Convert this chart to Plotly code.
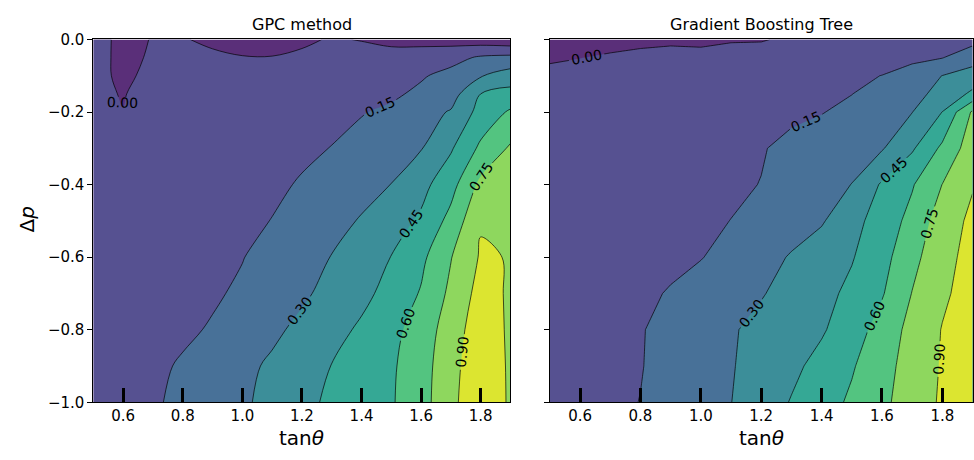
import plotly.graph_objects as go

# ---------------- data ----------------
x_tan = [0.5, 0.6, 0.7, 0.8, 0.9, 1.0, 1.1, 1.2, 1.3, 1.4, 1.5, 1.6, 1.7, 1.8, 1.9]
y_dp = [0.0, -0.05, -0.1, -0.15, -0.2, -0.3, -0.4, -0.5, -0.6, -0.7, -0.8, -0.9, -1.0]

# GPC method: one row per y_dp value (top to bottom), one column per x_tan value
gpc_z = [
    [0.045, -0.03, 0.005, 0.01, -0.03, -0.05, -0.045, -0.02, 0.01, -0.005, -0.04, -0.05, -0.06, -0.08, -0.107],
    [0.04, -0.028, 0.013, 0.025, 0.028, 0.006, 0.004, 0.02, 0.035, 0.045, 0.06, 0.075, 0.10, 0.17, 0.19],
    [0.035, -0.023, 0.03, 0.035, 0.04, 0.045, 0.05, 0.055, 0.065, 0.08, 0.10, 0.135, 0.195, 0.29, 0.37],
    [0.025, -0.006, 0.045, 0.05, 0.055, 0.06, 0.07, 0.08, 0.09, 0.105, 0.125, 0.18, 0.235, 0.45, 0.50],
    [0.03, 0.002, 0.04, 0.06, 0.074, 0.088, 0.102, 0.115, 0.129, 0.142, 0.178, 0.241, 0.312, 0.502, 0.62],
    [0.025, 0.041, 0.056, 0.072, 0.088, 0.104, 0.119, 0.135, 0.152, 0.199, 0.246, 0.293, 0.434, 0.629, 0.77],
    [0.03, 0.048, 0.065, 0.083, 0.10, 0.118, 0.135, 0.157, 0.205, 0.252, 0.302, 0.403, 0.547, 0.786, 0.80],
    [0.035, 0.054, 0.073, 0.093, 0.112, 0.131, 0.152, 0.203, 0.255, 0.311, 0.386, 0.474, 0.646, 0.888, 0.845],
    [0.04, 0.061, 0.082, 0.104, 0.125, 0.146, 0.194, 0.249, 0.304, 0.378, 0.453, 0.565, 0.744, 0.915, 0.894],
    [0.045, 0.068, 0.09, 0.113, 0.135, 0.169, 0.223, 0.278, 0.342, 0.412, 0.499, 0.612, 0.782, 0.953, 0.883],
    [0.05, 0.076, 0.102, 0.129, 0.161, 0.216, 0.272, 0.334, 0.401, 0.473, 0.555, 0.668, 0.823, 0.987, 0.877],
    [0.06, 0.093, 0.125, 0.163, 0.214, 0.266, 0.322, 0.388, 0.453, 0.516, 0.579, 0.69, 0.844, 1.014, 0.877],
    [0.07, 0.103, 0.135, 0.178, 0.229, 0.279, 0.342, 0.412, 0.476, 0.531, 0.586, 0.696, 0.855, 1.035, 0.876],
]

# Gradient Boosting Tree
gbt_z = [
    [-0.06, -0.05, -0.04, -0.03, -0.025, -0.03, -0.01, -0.008, 0.02, 0.03, 0.04, 0.05, 0.06, 0.08, 0.10],
    [-0.015, -0.002, 0.014, 0.03, 0.045, 0.04, 0.045, 0.05, 0.055, 0.062, 0.07, 0.09, 0.11, 0.145, 0.24],
    [0.03, 0.035, 0.045, 0.055, 0.063, 0.07, 0.078, 0.086, 0.095, 0.105, 0.125, 0.152, 0.225, 0.302, 0.36],
    [0.032, 0.044, 0.055, 0.067, 0.078, 0.09, 0.102, 0.113, 0.125, 0.137, 0.148, 0.20, 0.259, 0.341, 0.48],
    [0.035, 0.047, 0.059, 0.071, 0.084, 0.096, 0.108, 0.12, 0.132, 0.145, 0.182, 0.239, 0.297, 0.452, 0.77],
    [0.04, 0.055, 0.07, 0.085, 0.099, 0.114, 0.129, 0.144, 0.173, 0.212, 0.25, 0.288, 0.431, 0.63, 0.83],
    [0.05, 0.064, 0.079, 0.093, 0.108, 0.122, 0.136, 0.152, 0.202, 0.251, 0.302, 0.468, 0.588, 0.752, 0.89],
    [0.055, 0.071, 0.087, 0.103, 0.118, 0.134, 0.151, 0.195, 0.241, 0.286, 0.40, 0.517, 0.644, 0.826, 0.93],
    [0.06, 0.077, 0.094, 0.111, 0.128, 0.145, 0.192, 0.251, 0.311, 0.376, 0.44, 0.548, 0.707, 0.851, 0.95],
    [0.065, 0.087, 0.109, 0.131, 0.157, 0.201, 0.246, 0.291, 0.348, 0.408, 0.482, 0.587, 0.754, 0.876, 0.96],
    [0.07, 0.094, 0.118, 0.143, 0.186, 0.236, 0.287, 0.337, 0.385, 0.434, 0.529, 0.66, 0.796, 0.906, 0.965],
    [0.075, 0.098, 0.122, 0.145, 0.19, 0.241, 0.291, 0.353, 0.418, 0.495, 0.586, 0.697, 0.81, 0.912, 0.97],
    [0.08, 0.103, 0.127, 0.152, 0.199, 0.248, 0.298, 0.377, 0.458, 0.539, 0.623, 0.717, 0.824, 0.919, 0.975],
]

panel_titles = ["GPC method", "Gradient Boosting Tree"]
x_ticks = [0.6, 0.8, 1.0, 1.2, 1.4, 1.6, 1.8]
x_ticktext = ["0.6", "0.8", "1.0", "1.2", "1.4", "1.6", "1.8"]
y_ticks = [-1.0, -0.8, -0.6, -0.4, -0.2, 0.0]
y_ticktext = ["\u22121.0", "\u22120.8", "\u22120.6", "\u22120.4", "\u22120.2", "0.0"]
levels = dict(start=0.0, end=0.9, size=0.15)

# viridis band colours (lowest band first)
band_colors = ["rgb(90,47,121)", "rgb(86,81,145)", "rgb(72,113,152)", "rgb(60,142,153)",
               "rgb(53,168,149)", "rgb(83,196,128)", "rgb(142,215,94)", "rgb(220,229,48)"]

# ---------------- figure ----------------
FONT = "DejaVu Sans"
W, H = 974, 460
colorscale = [[i / (len(band_colors) - 1), c] for i, c in enumerate(band_colors)]


def make_contour(z, xa, ya, smoothing):
    return go.Contour(
        x=x_tan, y=y_dp[::-1], z=z[::-1], xaxis=xa, yaxis=ya,
        colorscale=colorscale, showscale=False, autocontour=False,
        contours=dict(start=levels["start"], end=levels["end"], size=levels["size"],
                      coloring="fill", showlabels=True, labelformat=".2f",
                      labelfont=dict(family=FONT, size=14, color="black")),
        line=dict(color="rgba(0,0,0,0.85)", width=0.8, smoothing=smoothing),
        hoverinfo="skip",
    )


fig = go.Figure()
fig.add_trace(make_contour(gpc_z, "x", "y", 1.0))
fig.add_trace(make_contour(gbt_z, "x2", "y2", 0.0))

ytop, ybot = 31.7, 409.3
ydom = [1 - ybot / H, 1 - ytop / H]
xdom1 = [93.5 / W, 511.0 / W]
xdom2 = [550.5 / W, 973.5 / W]

xcommon = dict(range=[0.5, 1.9], tickvals=x_ticks, ticktext=x_ticktext, ticks="inside",
               ticklen=14, tickwidth=3, tickcolor="black", showline=True, mirror=True,
               linecolor="black", linewidth=1, showgrid=False, zeroline=False,
               tickfont=dict(family=FONT, size=15, color="black"))
ycommon = dict(range=[-1.0, 0.0], tickvals=y_ticks, ticktext=y_ticktext, ticks="outside",
               ticklen=5, tickwidth=1, tickcolor="black", showline=True, mirror=True,
               linecolor="black", linewidth=1, showgrid=False, zeroline=False,
               tickfont=dict(family=FONT, size=15, color="black"))

fig.update_layout(
    width=W, height=H, margin=dict(l=0, r=0, t=0, b=0),
    paper_bgcolor="white", plot_bgcolor="white", showlegend=False,
    xaxis=dict(domain=xdom1, anchor="y", **xcommon),
    yaxis=dict(domain=ydom, anchor="x", **ycommon),
    xaxis2=dict(domain=xdom2, anchor="y2", **xcommon),
    yaxis2=dict(domain=ydom, anchor="x2", showticklabels=False, **ycommon),
)

ann = []
centers = [(xdom1[0] + xdom1[1]) / 2, (xdom2[0] + xdom2[1]) / 2]
for cx, t in zip(centers, panel_titles):
    ann.append(dict(text=t, x=cx, y=1 - 16 / H, xref="paper", yref="paper",
                    showarrow=False, xanchor="center", yanchor="middle",
                    font=dict(family=FONT, size=16, color="black")))
    ann.append(dict(text="tan<i>θ</i>", x=cx, y=1 - 446 / H, xref="paper", yref="paper",
                    showarrow=False, xanchor="center", yanchor="middle",
                    font=dict(family=FONT, size=20, color="black")))
ann.append(dict(text="Δ<i>p</i>", x=27 / W, y=1 - 219 / H, xref="paper", yref="paper",
                showarrow=False, xanchor="center", yanchor="middle", textangle=-90,
                font=dict(family=FONT, size=20, color="black")))
fig.update_layout(annotations=ann)

fig.write_html("out.html")
